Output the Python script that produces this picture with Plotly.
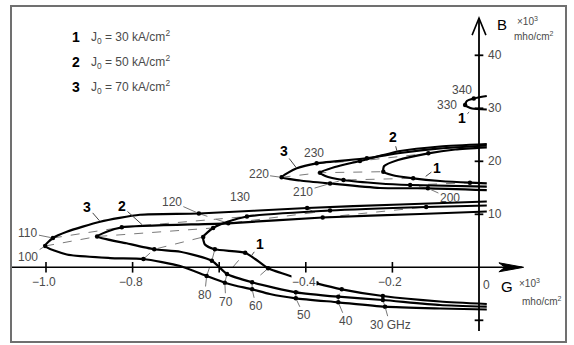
import plotly.graph_objects as go

# ---------------- data (G in 10^3 mho/cm^2, B in 10^3 mho/cm^2, F in GHz) ----------------
# Curve 3: J0 = 70 kA/cm2, lower frequency band
C3_B1_G = [0.018, -0.090, -0.217, -0.325, -0.423, -0.483, -0.524, -0.564, -0.587, -0.629, -0.690, -0.775,
           -0.852, -0.952, -1.002, -0.984, -0.952, -0.875, -0.783, -0.647, -0.397, -0.182, 0.018]
C3_B1_B = [-7.96, -7.77, -7.43, -6.60, -5.85, -5.04, -4.15, -3.43, -2.91, -1.64, 0.25, 1.57,
           1.75, 2.42, 4.02, 5.53, 6.72, 8.60, 9.91, 10.15, 11.19, 11.85, 12.42]
C3_B1_F = [None, None, 30, 40, 50, None, 60, None, 70, 80, None, 90,
           None, None, 100, 110, None, None, None, 120, 130, None, None]

# Curve 2: J0 = 50 kA/cm2, lower band
C2_B1_G = [0.018, -0.090, -0.222, -0.325, -0.423, -0.524, -0.582, -0.617, -0.690, -0.750, -0.814, -0.882,
           -0.860, -0.825, -0.579, -0.361, -0.136, 0.018]
C2_B1_B = [-7.43, -7.11, -6.17, -5.55, -4.72, -2.83, -1.26, 1.25, 2.94, 3.40, 4.53, 5.81,
           6.72, 7.55, 8.30, 9.40, 10.06, 10.53]
C2_B1_F = [None, None, 30, 40, 50, 60, 70, 80, None, 90, None, 100,
           None, 110, 120, 130, None, None]

# Curve 1: J0 = 30 kA/cm2, lower band
C1_B1_G = [0.018, -0.090, -0.222, -0.317, -0.375, -0.436, -0.487, -0.517, -0.540, -0.610, -0.633, -0.637,
           -0.614, -0.579, -0.536, -0.344, -0.122, 0.018]
C1_B1_B = [-6.92, -6.45, -5.42, -4.15, -3.02, -1.64, -0.19, 1.57, 2.75, 3.40, 4.30, 5.72,
           7.42, 8.64, 9.58, 10.72, 11.38, 11.66]
C1_B1_F = [None, None, 30, 40, 50, None, 60, None, 70, 80, None, 90,
           100, None, 110, 120, 130, None]

# Upper band (200-240 GHz)
C3_B2_G = [0.018, -0.118, -0.229, -0.344, -0.413, -0.456, -0.421, -0.375, -0.259, -0.182, -0.090, 0.018]
C3_B2_B = [14.58, 14.91, 14.96, 15.81, 16.38, 16.98, 18.68, 19.62, 20.57, 21.57, 22.42, 22.98]
C3_B2_F = [None, 200, None, 210, None, 220, None, 230, 240, None, None, None]

C2_B2_G = [0.018, -0.159, -0.229, -0.313, -0.355, -0.367, -0.333, -0.275, -0.182, -0.090, 0.018]
C2_B2_B = [15.21, 15.53, 15.81, 16.47, 17.23, 17.85, 18.92, 20.06, 21.94, 22.79, 23.26]
C2_B2_F = [None, 200, None, 210, None, 220, None, 230, None, None, None]

C1_B2_G = [0.018, -0.021, -0.090, -0.152, -0.201, -0.221, -0.219, -0.187, -0.117, -0.055, 0.018]
C1_B2_B = [15.85, 15.96, 16.28, 16.79, 17.42, 18.04, 19.11, 20.25, 21.51, 22.23, 22.64]
C1_B2_F = [None, 200, None, 210, None, 220, None, None, 230, None, None]

# Curve 1, third band (330-340 GHz)
C1_B3_G = [0.018, -0.016, -0.032, -0.028, -0.012, 0.018]
C1_B3_B = [29.77, 29.96, 30.62, 31.38, 31.85, 32.32]
C1_B3_F = [None, None, 330, None, 340, None]

G_TICKS = [-1.0, -0.8, -0.6, -0.4, -0.2]
G_TICK_LABELS = ["\u22121.0", "\u22120.8", "", "\u22120.4", "\u22120.2"]
B_TICKS = [-10, 10, 20, 30, 40]
B_TICK_LABELS = ["", "10", "20", "30", "40"]

LEGEND_NUM = ["1", "2", "3"]
LEGEND_J0 = [30, 50, 70]

# ---------------- layout geometry ----------------
W, H = 574, 345
XR = [-1.10624, 0.21940]
YR = [-14.660, 50.434]
FONT = "Liberation Sans, Arial, sans-serif"
TXT = "#4a4a4a"

fig = go.Figure()

curves = {
    3: [(C3_B1_G, C3_B1_B, C3_B1_F), (C3_B2_G, C3_B2_B, C3_B2_F)],
    2: [(C2_B1_G, C2_B1_B, C2_B1_F), (C2_B2_G, C2_B2_B, C2_B2_F)],
    1: [(C1_B1_G, C1_B1_B, C1_B1_F), (C1_B2_G, C1_B2_B, C1_B2_F), (C1_B3_G, C1_B3_B, C1_B3_F)],
}

# iso-frequency dashed lines (curve 3 -> 2 -> 1)
iso = {}
for cid in (3, 2, 1):
    for gs, bs, fs in curves[cid]:
        for g, b, f in zip(gs, bs, fs):
            if f is not None:
                iso.setdefault(f, []).append((g, b))
for f, pts in iso.items():
    if len(pts) > 1:
        fig.add_trace(go.Scatter(x=[p[0] for p in pts], y=[p[1] for p in pts], mode="lines",
                                 line=dict(color="#7a7a7a", width=1, dash="dash"),
                                 hoverinfo="skip", showlegend=False))

# main curves
for cid in (3, 2, 1):
    for gs, bs, fs in curves[cid]:
        fig.add_trace(go.Scatter(x=gs, y=bs, mode="lines",
                                 line=dict(color="black", width=2.2, shape="spline", smoothing=0.6),
                                 hoverinfo="skip", showlegend=False))
        mg = [g for g, f in zip(gs, fs) if f is not None]
        mb = [b for b, f in zip(bs, fs) if f is not None]
        fig.add_trace(go.Scatter(x=mg, y=mb, mode="markers",
                                 marker=dict(color="black", size=4.5),
                                 hoverinfo="skip", showlegend=False))

shapes = []
# axes
shapes.append(dict(type="line", xref="x", yref="y", x0=-1.079, x1=0.100, y0=0, y1=0,
                   line=dict(color="black", width=1.6)))
shapes.append(dict(type="line", xref="x", yref="y", x0=0, x1=0, y0=-12.0, y1=47.0,
                   line=dict(color="black", width=1.8)))
# arrow heads
shapes.append(dict(type="path", xref="x", yref="y",
                   path="M -0.016,43.8 L 0,47.0 L 0.016,43.8",
                   line=dict(color="black", width=1.6)))
shapes.append(dict(type="path", xref="x", yref="y",
                   path="M 0.046,0.85 L 0.103,0 L 0.046,-0.85 L 0.060,0 Z",
                   fillcolor="black", line=dict(color="black", width=1)))
# ticks
for g in G_TICKS:
    shapes.append(dict(type="line", xref="x", yref="y", x0=g, x1=g, y0=-1.0, y1=1.0,
                       line=dict(color="black", width=1.6)))
for b in B_TICKS:
    shapes.append(dict(type="line", xref="x", yref="y", x0=-0.010, x1=0.010, y0=b, y1=b,
                       line=dict(color="black", width=1.8)))
# frame
shapes.append(dict(type="rect", xref="paper", yref="paper", x0=11 / W, x1=566 / W,
                   y0=1 - 342 / H, y1=1 - 6 / H, line=dict(color="#707070", width=2)))

ann = []
for g, t in zip(G_TICKS, G_TICK_LABELS):
    if t:
        d = dict(x=g, y=0, xref="x", yref="y", text=t, showarrow=False, yshift=-15, xshift=-2,
                 xanchor="center", yanchor="middle", font=dict(family=FONT, size=12, color=TXT))
        if t == "\u22120.4":
            d.update(bgcolor="white", borderpad=0)
        ann.append(d)
for b, t in zip(B_TICKS, B_TICK_LABELS):
    if t:
        ann.append(dict(x=0, y=b, xref="x", yref="y", text=t, showarrow=False, xanchor="left", xshift=7,
                        yanchor="middle", font=dict(family=FONT, size=12, color=TXT)))
ann.append(dict(x=0, y=0, xref="x", yref="y", text="0", showarrow=False, xanchor="left", xshift=2,
                yanchor="middle", yshift=-18, font=dict(family=FONT, size=12, color=TXT)))


def pt(cid, band, f):
    gs, bs, fs = curves[cid][band]
    i = fs.index(f)
    return gs[i], bs[i]


# frequency labels: (curve, band, freq, text, dx, dy, arrow)
FREQ_LABELS = [
    (3, 0, 30, "30 GHz", 5, 18, True), (3, 0, 40, "40", 8, 19, True), (3, 0, 50, "50", 8, 17, True),
    (3, 0, 60, "60", 4, 17, True), (3, 0, 70, "70", 1, 19, True), (3, 0, 80, "80", -2, 19, True),
    (3, 0, 100, "100", -17, 11, True), (3, 0, 110, "110", -25, -5, True), (3, 0, 120, "120", -27, -12, True),
    (3, 0, 130, "130", -67, -11, False),
    (3, 1, 200, "200", 22, 10, True), (3, 1, 210, "210", -27, 8, True), (3, 1, 220, "220", -23, -3, True),
    (3, 1, 230, "230", -3, -10, False),
    (1, 2, 330, "330", -18, 0, False), (1, 2, 340, "340", -12, -9, False),
]
for cid, band, f, t, dx, dy, arrow in FREQ_LABELS:
    g, b = pt(cid, band, f)
    d = dict(x=g, y=b, xref="x", yref="y", text=t, xanchor="center", yanchor="middle",
             font=dict(family=FONT, size=12, color=TXT))
    if arrow:
        d.update(showarrow=True, arrowhead=0, arrowwidth=1, arrowcolor="#777", ax=dx, ay=dy, standoff=2)
    else:
        d.update(showarrow=False, xshift=dx, yshift=-dy)
    ann.append(d)

# curve number labels: (G on curve, B on curve, text, dx, dy)
CURVE_LABELS = [
    (-0.875, 8.64, "3", -13, -15), (-0.776, 7.89, "2", -21, -19), (-0.527, 2.04, "1", 9, -12),
    (-0.421, 18.68, "3", -13, -17), (-0.189, 21.80, "2", -4, -15), (-0.125, 17.04, "1", 12, -9),
    (-0.021, 29.40, "1", -8, 7),
]
for g, b, t, dx, dy in CURVE_LABELS:
    ann.append(dict(x=g, y=b, xref="x", yref="y", text="<b>" + t + "</b>", showarrow=True, arrowhead=0,
                    arrowwidth=1, arrowcolor="#444", ax=dx, ay=dy, standoff=1,
                    font=dict(family=FONT, size=14, color="black")))

# legend
for i, (n, j) in enumerate(zip(LEGEND_NUM, LEGEND_J0)):
    yy = 1 - (36.7 + 25.3 * i) / H
    ann.append(dict(x=76 / W, y=yy, xref="paper", yref="paper", text="<b>" + n + "</b>", showarrow=False,
                    xanchor="center", yanchor="middle", font=dict(family=FONT, size=14, color="black")))
    ann.append(dict(x=89 / W, y=yy, xref="paper", yref="paper", xanchor="left", yanchor="middle",
                    text="J<sub>0</sub> = %d kA/cm<sup>2</sup>" % j, showarrow=False,
                    font=dict(family=FONT, size=12, color=TXT)))

# axis titles
ann += [
    dict(x=501.5 / W, y=1 - 25 / H, text="B", xanchor="center",
         font=dict(family=FONT, size=15, color="black")),
    dict(x=515 / W, y=1 - 21 / H, xanchor="left", text="\u00d710<sup>3</sup>",
         font=dict(family=FONT, size=10, color=TXT)),
    dict(x=512 / W, y=1 - 36 / H, xanchor="left", text="mho/cm<sup>2</sup>",
         font=dict(family=FONT, size=10, color=TXT)),
    dict(x=507 / W, y=1 - 286 / H, text="G", xanchor="center",
         font=dict(family=FONT, size=15, color="black")),
    dict(x=517 / W, y=1 - 283 / H, xanchor="left", text="\u00d710<sup>3</sup>",
         font=dict(family=FONT, size=10, color=TXT)),
    dict(x=520 / W, y=1 - 301 / H, xanchor="left", text="mho/cm<sup>2</sup>",
         font=dict(family=FONT, size=10, color=TXT)),
]
for a in ann[-6:]:
    a.update(xref="paper", yref="paper", showarrow=False, yanchor="middle")

fig.update_layout(
    width=W, height=H, margin=dict(l=0, r=0, t=0, b=0),
    paper_bgcolor="white", plot_bgcolor="white", showlegend=False,
    xaxis=dict(range=XR, visible=False, fixedrange=True),
    yaxis=dict(range=YR, visible=False, fixedrange=True),
    shapes=shapes, annotations=ann,
)
fig.write_html("out.html", config={"displayModeBar": False},
               post_script="document.body.style.margin='0';document.body.style.overflow='hidden';")
